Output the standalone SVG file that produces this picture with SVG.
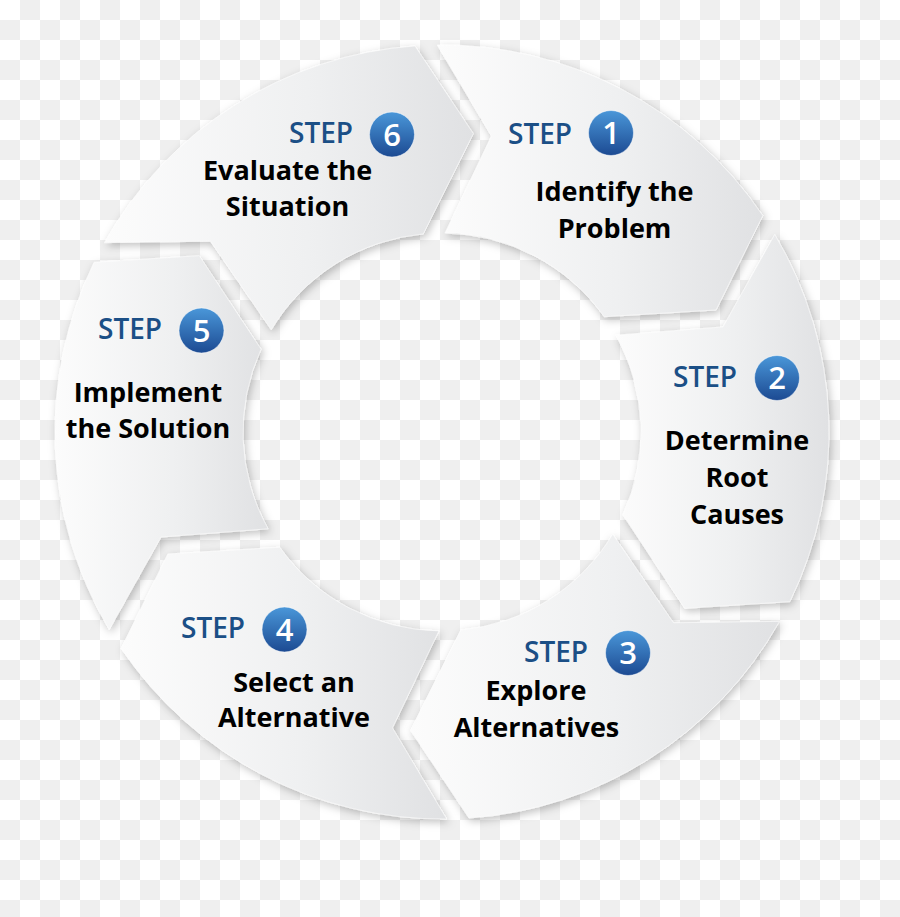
<svg xmlns="http://www.w3.org/2000/svg" width="900" height="917" viewBox="0 0 900 917">
<defs>
<pattern id="checker" width="40" height="40" patternUnits="userSpaceOnUse">
<rect width="40" height="40" fill="#ffffff"/>
<rect x="20" y="0" width="20" height="20" fill="#efefef"/>
<rect x="0" y="20" width="20" height="20" fill="#efefef"/>
</pattern>
<linearGradient id="segFill" x1="0" y1="0" x2="1" y2="0">
<stop offset="0" stop-color="#fcfcfc"/>
<stop offset="0.55" stop-color="#eff0f1"/>
<stop offset="1" stop-color="#e0e1e3"/>
</linearGradient>
<linearGradient id="badgeFill" x1="0" y1="0" x2="0" y2="1">
<stop offset="0" stop-color="#4a97d9"/>
<stop offset="1" stop-color="#1c4a92"/>
</linearGradient>
<filter id="shadow" x="-10%" y="-10%" width="125%" height="125%">
<feDropShadow dx="2" dy="3" stdDeviation="4" flood-color="#000000" flood-opacity="0.25"/>
</filter>
<style>
.seg{fill:url(#segFill);filter:url(#shadow);stroke:#ffffff;stroke-width:0.8;stroke-opacity:0.7}
.step{font-family:"Open Sans","Noto Sans","DejaVu Sans",sans-serif;font-weight:600;font-size:28px;fill:#1b4f86}
.badge{fill:url(#badgeFill);stroke:#ffffff;stroke-opacity:0.5;stroke-width:1}
.num{font-family:"Open Sans","Noto Sans","DejaVu Sans",sans-serif;font-weight:600;font-size:31px;fill:#ffffff;text-anchor:middle}
.lbl{font-family:"Open Sans","Noto Sans","DejaVu Sans",sans-serif;font-weight:700;font-size:27px;fill:#000000;text-anchor:middle}
</style>
</defs>
<rect width="900" height="917" fill="url(#checker)"/>
<g id="segments">
<g id="step1">
<path class="seg" d="M437.27,45.03 A387,387 0 0 1 762.84,215.59 L716.06,309.98 L604.21,316.72 A199,199 0 0 0 445.13,233.02 L491.51,136.11 Z"/>
<text class="step" x="508" y="144">STEP</text>
<circle class="badge" cx="611" cy="133" r="22.5"/>
<text class="num" x="611" y="144">1</text>
<text class="lbl" x="614.5" y="201">Identify the</text>
<text class="lbl" x="614.5" y="238">Problem</text>
</g>
<g id="step2">
<path class="seg" d="M774.76,234.42 A387,387 0 0 1 789.83,601.65 L684.71,608.34 L622.94,514.84 A199,199 0 0 0 615.88,335.22 L723.00,326.94 Z"/>
<text class="step" x="673" y="387">STEP</text>
<circle class="badge" cx="777" cy="378" r="22.5"/>
<text class="num" x="777" y="389">2</text>
<text class="lbl" x="737" y="450">Determine</text>
<text class="lbl" x="737" y="487">Root</text>
<text class="lbl" x="737" y="524">Causes</text>
</g>
<g id="step3">
<path class="seg" d="M779.49,621.39 A387,387 0 0 1 469.00,818.06 L410.64,730.36 L460.73,630.12 A199,199 0 0 0 612.74,534.19 L673.49,622.82 Z"/>
<text class="step" x="524" y="662">STEP</text>
<circle class="badge" cx="628" cy="653" r="22.5"/>
<text class="num" x="628" y="664">3</text>
<text class="lbl" x="536" y="700">Explore</text>
<text class="lbl" x="536.5" y="737">Alternatives</text>
</g>
<g id="step4">
<path class="seg" d="M446.73,818.97 A387,387 0 0 1 121.16,648.41 L167.94,554.02 L279.79,547.28 A199,199 0 0 0 438.87,630.98 L392.49,727.89 Z"/>
<text class="step" x="181" y="638">STEP</text>
<circle class="badge" cx="284.5" cy="629.5" r="22.5"/>
<text class="num" x="284.5" y="640.5">4</text>
<text class="lbl" x="294" y="692">Select an</text>
<text class="lbl" x="294" y="727">Alternative</text>
</g>
<g id="step5">
<path class="seg" d="M109.24,629.58 A387,387 0 0 1 94.17,262.35 L199.29,255.66 L261.06,349.16 A199,199 0 0 0 268.12,528.78 L161.00,537.06 Z"/>
<text class="step" x="98" y="339">STEP</text>
<circle class="badge" cx="201.5" cy="330.5" r="22.5"/>
<text class="num" x="201.5" y="341.5">5</text>
<text class="lbl" x="148" y="402">Implement</text>
<text class="lbl" x="148" y="438">the Solution</text>
</g>
<g id="step6">
<path class="seg" d="M104.51,242.61 A387,387 0 0 1 415.00,45.94 L473.36,133.64 L423.27,233.88 A199,199 0 0 0 271.26,329.81 L210.51,241.18 Z"/>
<text class="step" x="289" y="143">STEP</text>
<circle class="badge" cx="392" cy="134.5" r="22.5"/>
<text class="num" x="392" y="145.5">6</text>
<text class="lbl" x="287.5" y="180">Evaluate the</text>
<text class="lbl" x="287.5" y="216">Situation</text>
</g>
</g>
<g id="connectors"></g>
</svg>
